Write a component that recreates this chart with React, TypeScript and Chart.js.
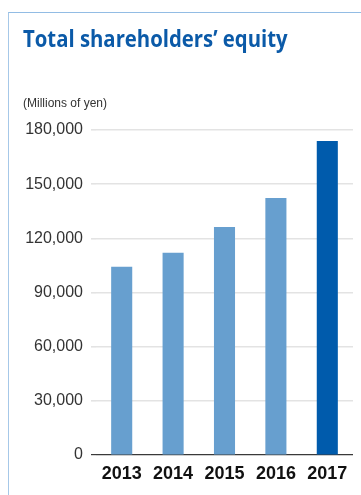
import React, { useEffect, useLayoutEffect, useRef, useState } from "react";
import { Chart, registerables } from "chart.js";

Chart.register(...registerables);

const title = "Total shareholders’ equity";
const unitLabel = "(Millions of yen)";
const years = ["2013", "2014", "2015", "2016", "2017"];
const equity = [104200, 112000, 126300, 142400, 173900];
const barColors = ["#679fcf", "#679fcf", "#679fcf", "#679fcf", "#005bac"];
const yTickValues = [0, 30000, 60000, 90000, 120000, 150000, 180000];

export default function App() {
  const canvasRef = useRef<HTMLCanvasElement | null>(null);
  const titleRef = useRef<HTMLSpanElement | null>(null);
  const [titleScale, setTitleScale] = useState(1);

  useLayoutEffect(() => {
    if (titleRef.current) {
      const w = titleRef.current.offsetWidth;
      if (w > 0) setTitleScale(265 / w);
    }
  }, []);

  useEffect(() => {
    const canvas = canvasRef.current;
    if (!canvas) return;
    const chart = new Chart(canvas, {
      type: "bar",
      data: {
        labels: years,
        datasets: [
          {
            data: equity,
            backgroundColor: barColors,
            borderWidth: 0,
            barPercentage: 0.41,
            categoryPercentage: 1,
          },
        ],
      },
      options: {
        responsive: false,
        animation: false,
        devicePixelRatio: 1,
        layout: { padding: { top: 130, left: 0, right: 8, bottom: 0 } },
        plugins: {
          legend: { display: false },
          title: { display: false },
          tooltip: { enabled: false },
        },
        scales: {
          x: {
            grid: { display: false, drawTicks: false },
            border: { display: false },
            ticks: {
              padding: 8,
              color: "#111",
              font: { family: "'Liberation Sans', Arial, sans-serif", size: 18, weight: "bold" },
            },
            afterFit: (axis: any) => {
              axis.height = 40;
            },
          },
          y: {
            min: 0,
            max: 180000,
            afterBuildTicks: (axis: any) => {
              axis.ticks = yTickValues.map((v) => ({ value: v }));
            },
            grid: {
              color: (ctx: any) => (ctx.tick && ctx.tick.value === 0 ? "#3a3a3a" : "#e3e3e3"),
              lineWidth: (ctx: any) => (ctx.tick && ctx.tick.value === 0 ? 1.2 : 1.6),
              tickLength: 5,
              drawTicks: true,
            },
            border: { display: false },
            ticks: {
              padding: 8,
              color: "#333",
              font: { family: "'Liberation Sans', Arial, sans-serif", size: 16 },
              callback: (v: any) => Number(v).toLocaleString("en-US"),
            },
            afterFit: (axis: any) => {
              axis.width = 96;
            },
          },
        },
      },
    });
    return () => chart.destroy();
  }, []);

  return (
    <div>
      <div
        style={{
          position: "fixed",
          left: 8,
          top: 12,
          right: 0,
          bottom: 0,
          borderTop: "1px solid #92bce4",
          borderLeft: "1px solid #a6c8e8",
        }}
      />
      <div
        style={{
          position: "fixed",
          left: 23,
          top: 27,
          fontFamily: "'Open Sans', sans-serif",
          fontWeight: 700,
          fontSize: 23,
          lineHeight: "23px",
          color: "#0b5aa8",
          whiteSpace: "nowrap",
          transformOrigin: "left top",
          transform: `scaleX(${titleScale})`,
        }}
      >
        <span ref={titleRef}>{title}</span>
      </div>
      <div
        style={{
          position: "fixed",
          left: 23,
          top: 96.5,
          fontFamily: "'Liberation Sans', Arial, sans-serif",
          fontSize: 12,
          lineHeight: "12px",
          color: "#333",
          whiteSpace: "nowrap",
        }}
      >
        {unitLabel}
      </div>
      <canvas
        ref={canvasRef}
        width={361}
        height={495}
        style={{ position: "fixed", left: 0, top: 0, width: 361, height: 495 }}
      />
    </div>
  );
}
